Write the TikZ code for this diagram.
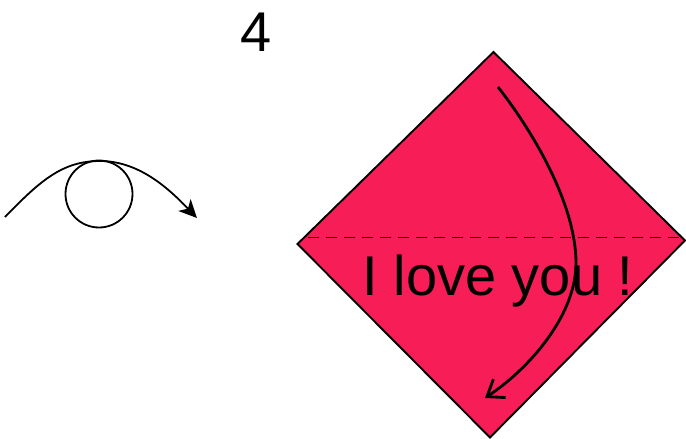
\documentclass[tikz,border=0pt]{standalone}
\usepackage{fontspec}
\setmainfont{Liberation Sans}
\usepackage{xcolor}
\usetikzlibrary{arrows.meta}

\definecolor{heartpink}{RGB}{247,30,87}

\begin{document}
\begin{tikzpicture}[x=1pt, y=-1pt]
  \useasboundingbox (0,0) rectangle (686,439);

  % Step number
  \node[font=\fontsize{56}{60}\selectfont, anchor=base, inner sep=0] (stepnum) at (256.5,51) {4};

  % Left figure
  \begin{scope}[line width=1.8pt]
    \draw (99,194) circle (33.5);
    \draw[-{Stealth[length=18pt, width=17pt, inset=5pt]}] (5,217)
      .. controls (40,181) and (62,161) .. (100,161)
      .. controls (140,161) and (170,190) .. (197,218);
  \end{scope}

  % Right figure
  \begin{scope}
    \filldraw[fill=heartpink, draw=black, line width=1.9pt, line join=miter]
      (493.5,52) -- (685,240.5) -- (490,437.5) -- (297.5,244) -- cycle;

    \draw[dash pattern=on 11pt off 7pt, line width=1.3pt] (308,237.5) -- (681,237.5);

    \node[font=\fontsize{56}{60}\selectfont, anchor=base, inner sep=0] (love) at (498,295) {I love you !};

    \draw[line width=2.8pt, -{Straight Barb[length=15pt, width=22pt]}] (498,87)
      .. controls (534,133) and (576,205) .. (576,263)
      .. controls (576,315) and (530,368) .. (485,398);
  \end{scope}
\end{tikzpicture}
\end{document}
